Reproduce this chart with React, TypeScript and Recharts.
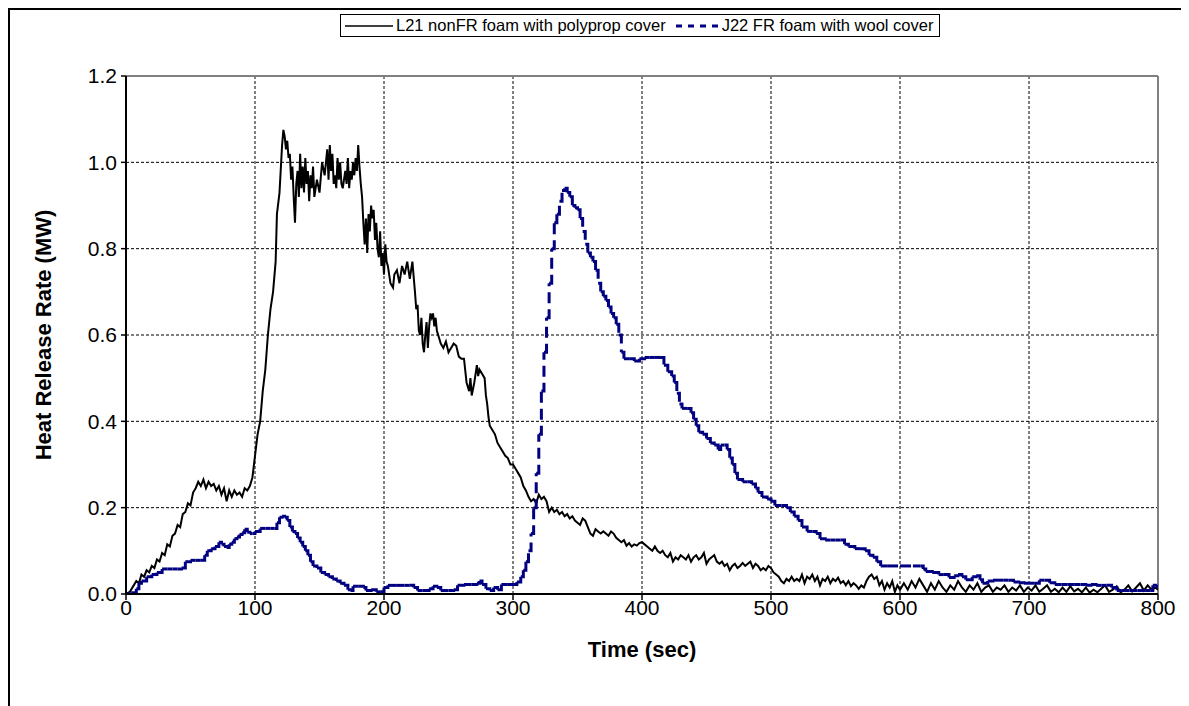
import React from 'react';
import {
  LineChart,
  Line,
  XAxis,
  YAxis,
  CartesianGrid,
  ReferenceLine,
} from 'recharts';

// time (sec), heat release rate (MW)
const l21Points: [number, number][] = [
  [0, 0], [3, 0.005], [6, 0.02], [8, 0.03], [10, 0.025], [12, 0.045], [14, 0.04], [16, 0.055],
  [18, 0.05], [20, 0.065], [22, 0.06], [24, 0.08], [26, 0.075], [28, 0.095], [30, 0.09], [32, 0.115],
  [34, 0.11], [36, 0.135], [38, 0.14], [40, 0.16], [42, 0.155], [44, 0.185], [46, 0.19], [48, 0.21],
  [50, 0.205], [52, 0.235], [54, 0.245], [56, 0.26], [58, 0.25], [60, 0.265], [62, 0.245], [64, 0.26],
  [66, 0.25], [68, 0.255], [70, 0.24], [72, 0.25], [74, 0.23], [76, 0.245], [78, 0.215], [80, 0.24],
  [82, 0.225], [84, 0.24], [86, 0.23], [88, 0.235], [90, 0.225], [92, 0.245], [94, 0.24], [96, 0.25],
  [98, 0.27], [100, 0.32], [102, 0.37], [104, 0.4], [106, 0.47], [108, 0.52], [110, 0.6], [112, 0.66],
  [114, 0.7], [116, 0.77], [117, 0.88], [119, 0.93], [121, 1.04], [122, 1.075], [123, 1.06], [124, 1.03],
  [125, 1.05], [126, 1.01], [127, 1.02], [128, 0.96], [129, 0.99], [130, 0.92], [131, 0.86], [132, 0.95],
  [133, 0.98], [134, 0.92], [135, 1.02], [136, 0.94], [137, 0.99], [138, 0.93], [139, 1.01], [140, 0.95],
  [141, 0.98], [142, 0.91], [143, 0.97], [144, 0.94], [145, 0.99], [146, 0.92], [148, 0.96], [150, 0.93],
  [152, 1.0], [154, 0.97], [156, 1.03], [157, 0.96], [158, 1.04], [159, 0.98], [160, 1.02], [161, 0.95],
  [162, 0.97], [163, 0.94], [164, 1.01], [165, 0.96], [166, 1.0], [167, 0.95], [168, 0.94], [170, 0.98],
  [171, 0.95], [172, 1.01], [173, 0.94], [174, 0.98], [175, 0.96], [176, 1.0], [177, 0.97], [178, 1.01],
  [179, 0.98], [180, 1.04], [181, 0.99], [182, 0.95], [183, 0.92], [184, 0.86], [185, 0.81], [186, 0.87],
  [187, 0.79], [188, 0.88], [189, 0.84], [190, 0.9], [191, 0.87], [192, 0.89], [193, 0.82], [194, 0.86],
  [195, 0.8], [196, 0.78], [197, 0.84], [198, 0.76], [199, 0.79], [200, 0.74], [201, 0.81], [202, 0.77],
  [203, 0.76], [205, 0.72], [207, 0.71], [208, 0.74], [210, 0.75], [212, 0.72], [214, 0.76], [216, 0.74],
  [218, 0.77], [220, 0.73], [222, 0.77], [224, 0.7], [225, 0.66], [226, 0.67], [227, 0.61], [228, 0.6],
  [229, 0.64], [230, 0.58], [231, 0.56], [232, 0.6], [233, 0.63], [234, 0.57], [235, 0.62], [236, 0.65],
  [237, 0.64], [238, 0.65], [239, 0.62], [240, 0.64], [241, 0.61], [242, 0.6], [243, 0.59], [244, 0.58],
  [246, 0.57], [248, 0.585], [250, 0.56], [252, 0.57], [254, 0.58], [256, 0.575], [258, 0.55], [260, 0.545],
  [262, 0.545], [264, 0.49], [266, 0.47], [267, 0.5], [268, 0.46], [270, 0.49], [271, 0.51], [272, 0.53],
  [273, 0.505], [274, 0.52], [276, 0.51], [278, 0.5], [279, 0.46], [280, 0.44], [281, 0.41], [282, 0.39],
  [284, 0.38], [286, 0.37], [288, 0.35], [290, 0.34], [292, 0.33], [294, 0.32], [296, 0.315], [298, 0.3],
  [300, 0.3], [302, 0.29], [304, 0.28], [306, 0.27], [308, 0.25], [310, 0.24], [312, 0.225], [314, 0.215],
  [316, 0.22], [318, 0.21], [320, 0.23], [322, 0.22], [324, 0.225], [326, 0.215], [328, 0.19], [330, 0.2],
  [332, 0.19], [334, 0.195], [336, 0.185], [338, 0.19], [340, 0.18], [342, 0.185], [344, 0.175], [346, 0.18],
  [348, 0.17], [350, 0.165], [352, 0.16], [354, 0.175], [356, 0.17], [358, 0.155], [360, 0.14], [362, 0.135],
  [364, 0.15], [366, 0.145], [368, 0.14], [370, 0.145], [372, 0.14], [374, 0.135], [376, 0.145], [378, 0.14],
  [380, 0.13], [382, 0.125], [384, 0.12], [386, 0.125], [388, 0.112], [390, 0.118], [392, 0.11], [394, 0.115],
  [396, 0.112], [398, 0.118], [400, 0.12], [402, 0.115], [404, 0.11], [406, 0.105], [408, 0.1], [410, 0.11],
  [412, 0.1], [414, 0.095], [416, 0.1], [418, 0.09], [420, 0.085], [422, 0.095], [424, 0.075], [426, 0.085],
  [428, 0.08], [430, 0.09], [432, 0.085], [434, 0.08], [436, 0.09], [438, 0.075], [440, 0.085], [442, 0.09],
  [444, 0.08], [446, 0.085], [448, 0.095], [450, 0.07], [452, 0.08], [454, 0.085], [456, 0.09], [458, 0.075],
  [460, 0.07], [462, 0.075], [464, 0.065], [466, 0.07], [468, 0.055], [470, 0.065], [472, 0.07], [474, 0.06],
  [476, 0.065], [478, 0.072], [480, 0.065], [482, 0.07], [484, 0.075], [486, 0.06], [488, 0.07], [490, 0.065],
  [492, 0.055], [494, 0.06], [496, 0.055], [498, 0.065], [500, 0.06], [502, 0.05], [504, 0.045], [506, 0.04],
  [508, 0.03], [510, 0.025], [512, 0.035], [514, 0.03], [516, 0.04], [518, 0.03], [520, 0.035], [522, 0.03],
  [524, 0.045], [526, 0.025], [528, 0.04], [530, 0.035], [532, 0.045], [534, 0.03], [536, 0.04], [538, 0.02],
  [540, 0.035], [542, 0.03], [544, 0.04], [546, 0.025], [548, 0.035], [550, 0.03], [552, 0.038], [554, 0.025],
  [556, 0.03], [558, 0.02], [560, 0.03], [562, 0.018], [564, 0.025], [566, 0.02], [568, 0.012], [570, 0.02],
  [572, 0.015], [574, 0.03], [576, 0.04], [578, 0.045], [580, 0.035], [582, 0.04], [584, 0.02], [586, 0.03],
  [588, 0.01], [590, 0.025], [592, 0.015], [594, 0.03], [596, 0.005], [598, 0.02], [600, 0.01], [603, 0.025],
  [606, 0.01], [609, 0.03], [612, 0.015], [615, 0.035], [618, 0.02], [621, 0.005], [624, 0.025], [627, 0.01],
  [630, 0.03], [633, 0.015], [636, 0.005], [639, 0.02], [642, 0.01], [645, 0.03], [648, 0.015], [651, 0.005],
  [654, 0.02], [657, 0.01], [660, 0.025], [663, 0.005], [666, 0.015], [669, 0.02], [672, 0.005], [675, 0.015],
  [678, 0.01], [681, 0.02], [684, 0.005], [687, 0.015], [690, 0.008], [693, 0.02], [696, 0.005], [699, 0.015],
  [702, 0.008], [705, 0.02], [708, 0.005], [711, 0.012], [714, 0.02], [717, 0.005], [720, 0.012], [723, 0.004],
  [726, 0.015], [729, 0.005], [732, 0.018], [735, 0.006], [738, 0.012], [741, 0.004], [744, 0.015], [747, 0.003],
  [750, 0.01], [753, 0.004], [756, 0.012], [759, 0.02], [762, 0.005], [765, 0.01], [768, 0.018], [771, 0.004],
  [774, 0.01], [777, 0.02], [780, 0.006], [783, 0.015], [786, 0.025], [789, 0.008], [792, 0.02], [795, 0.01],
  [798, 0.015], [800, 0.01],
];

const j22Points: [number, number][] = [
  [0, 0], [4, 0.003], [8, 0.012], [10, 0.025], [12, 0.03], [16, 0.04], [20, 0.045], [24, 0.05],
  [28, 0.058], [32, 0.058], [36, 0.058], [40, 0.058], [43, 0.06], [46, 0.075], [50, 0.078], [54, 0.078],
  [58, 0.078], [61, 0.09], [63, 0.1], [66, 0.105], [69, 0.11], [72, 0.12], [74, 0.115], [76, 0.11],
  [78, 0.108], [80, 0.115], [82, 0.12], [84, 0.128], [86, 0.132], [88, 0.138], [90, 0.142], [92, 0.15],
  [94, 0.143], [96, 0.14], [98, 0.14], [100, 0.145], [104, 0.152], [108, 0.152], [112, 0.152], [115, 0.152],
  [117, 0.165], [119, 0.178], [121, 0.18], [123, 0.178], [125, 0.17], [127, 0.155], [129, 0.145], [131, 0.14],
  [133, 0.13], [135, 0.12], [137, 0.11], [139, 0.1], [141, 0.09], [143, 0.075], [145, 0.065], [148, 0.06],
  [151, 0.05], [154, 0.045], [157, 0.04], [160, 0.035], [163, 0.03], [166, 0.025], [169, 0.02], [172, 0.01],
  [174, 0.008], [176, 0.018], [180, 0.018], [184, 0.015], [186, 0.008], [190, 0.01], [194, 0.005], [197, 0.005],
  [200, 0.015], [203, 0.02], [210, 0.02], [216, 0.02], [220, 0.02], [223, 0.015], [226, 0.008], [230, 0.008],
  [235, 0.012], [238, 0.018], [241, 0.015], [244, 0.008], [250, 0.008], [254, 0.01], [257, 0.02], [262, 0.022],
  [268, 0.022], [272, 0.025], [274, 0.03], [276, 0.022], [279, 0.012], [282, 0.008], [285, 0.015], [288, 0.01],
  [291, 0.022], [296, 0.022], [300, 0.022], [303, 0.028], [306, 0.04], [308, 0.055], [310, 0.075], [312, 0.1],
  [314, 0.14], [316, 0.2], [318, 0.28], [320, 0.37], [322, 0.47], [324, 0.56], [326, 0.64], [328, 0.72],
  [330, 0.8], [332, 0.86], [334, 0.88], [336, 0.91], [338, 0.935], [340, 0.94], [342, 0.93], [344, 0.92],
  [346, 0.9], [348, 0.895], [350, 0.89], [352, 0.87], [354, 0.84], [356, 0.81], [358, 0.79], [360, 0.78],
  [362, 0.77], [364, 0.75], [366, 0.72], [368, 0.7], [370, 0.69], [372, 0.68], [374, 0.665], [376, 0.65],
  [378, 0.64], [380, 0.625], [382, 0.6], [384, 0.56], [386, 0.545], [390, 0.545], [394, 0.54], [398, 0.545],
  [402, 0.548], [406, 0.548], [410, 0.548], [414, 0.548], [417, 0.53], [420, 0.515], [423, 0.505], [425, 0.49],
  [427, 0.465], [429, 0.44], [431, 0.43], [435, 0.43], [438, 0.42], [440, 0.405], [442, 0.39], [444, 0.375],
  [447, 0.37], [450, 0.36], [453, 0.35], [456, 0.345], [459, 0.335], [461, 0.345], [464, 0.345], [466, 0.335],
  [468, 0.315], [470, 0.3], [472, 0.28], [474, 0.265], [478, 0.26], [482, 0.26], [485, 0.255], [488, 0.245],
  [490, 0.235], [493, 0.225], [497, 0.22], [500, 0.215], [503, 0.205], [508, 0.205], [512, 0.2], [515, 0.19],
  [518, 0.18], [521, 0.17], [524, 0.155], [528, 0.145], [532, 0.145], [535, 0.14], [538, 0.128], [542, 0.125],
  [546, 0.125], [550, 0.125], [554, 0.125], [557, 0.115], [560, 0.11], [565, 0.105], [569, 0.105], [573, 0.1],
  [576, 0.09], [579, 0.085], [582, 0.075], [585, 0.065], [590, 0.065], [600, 0.065], [610, 0.065], [616, 0.065],
  [618, 0.058], [620, 0.052], [625, 0.05], [630, 0.045], [634, 0.045], [638, 0.038], [642, 0.042], [645, 0.045],
  [648, 0.04], [651, 0.033], [656, 0.04], [659, 0.042], [662, 0.033], [664, 0.025], [668, 0.03], [672, 0.032],
  [676, 0.032], [680, 0.032], [684, 0.032], [688, 0.028], [692, 0.026], [696, 0.025], [700, 0.025], [704, 0.025],
  [708, 0.032], [712, 0.032], [716, 0.026], [720, 0.022], [725, 0.022], [730, 0.022], [735, 0.022], [740, 0.022],
  [744, 0.02], [748, 0.022], [752, 0.02], [756, 0.02], [760, 0.02], [764, 0.015], [768, 0.008], [772, 0.008],
  [778, 0.008], [784, 0.008], [790, 0.008], [794, 0.008], [796, 0.02], [798, 0.018], [800, 0.015],
];

const xTicks = [0, 100, 200, 300, 400, 500, 600, 700, 800];
const yTicks = [0, 0.2, 0.4, 0.6, 0.8, 1.0, 1.2];

const l21Name = 'L21 nonFR foam with polyprop cover';
const j22Name = 'J22 FR foam with wool cover';

const l21Data = l21Points.map(([t, hrr]) => ({ t, hrr }));
const j22Data = j22Points.map(([t, hrr]) => ({ t, hrr }));
// excel restarts the dash pattern on every segment, so the dashed
// series is drawn one segment at a time
const j22Segments = j22Data.slice(1).map((p, i) => [j22Data[i], p]);

const FONT = 'Arial, "Liberation Sans", sans-serif';
const NAVY = '#000080';

const LegendBox = () => (
  <div
    style={{
      position: 'absolute',
      left: 330,
      top: 4,
      display: 'flex',
      alignItems: 'center',
      border: '1px solid #000',
      background: '#fff',
      padding: '1px 6px 1px 4px',
      fontFamily: FONT,
      fontSize: 16.5,
      lineHeight: '19px',
      whiteSpace: 'nowrap',
      color: '#000',
    }}
  >
    <svg width={48} height={10}>
      <line x1={0} y1={5} x2={48} y2={5} stroke="#000" strokeWidth={1.5} />
    </svg>
    <span style={{ marginLeft: 3, marginRight: 10 }}>{l21Name}</span>
    <svg width={44} height={10}>
      <line x1={0} y1={5} x2={44} y2={5} stroke={NAVY} strokeWidth={3} strokeDasharray="6 6" />
    </svg>
    <span style={{ marginLeft: 2 }}>{j22Name}</span>
  </div>
);

const YTitle = (props: any) => {
  const { viewBox } = props;
  const x = viewBox.x - 13;
  const y = viewBox.y + viewBox.height / 2;
  return (
    <text
      x={x}
      y={y}
      transform={`rotate(-90 ${x} ${y})`}
      textAnchor="middle"
      dominantBaseline="central"
      fontFamily={FONT}
      fontSize={22}
      fontWeight="bold"
      fill="#000"
    >
      Heat Release Rate (MW)
    </text>
  );
};

const XTitle = (props: any) => {
  const { viewBox } = props;
  const x = viewBox.x + viewBox.width / 2;
  const y = viewBox.y + 55;
  return (
    <text
      x={x}
      y={y}
      textAnchor="middle"
      dominantBaseline="central"
      fontFamily={FONT}
      fontSize={22}
      fontWeight="bold"
      fill="#000"
    >
      Time (sec)
    </text>
  );
};

export default function App() {
  return (
    <div
      style={{
        width: 1181,
        height: 698,
        borderLeft: '2px solid #000',
        borderTop: '2px solid #000',
        background: '#fff',
        boxSizing: 'border-box',
        position: 'relative',
      }}
    >
      <LineChart
        width={1179}
        height={696}
        margin={{ top: 66, right: 31, bottom: 52, left: 46 }}
      >
        <CartesianGrid stroke="#000" strokeWidth={1} strokeDasharray="3 2" />
        <XAxis
          dataKey="t"
          type="number"
          domain={[0, 800]}
          ticks={xTicks}
          allowDataOverflow
          height={60}
          tickSize={6}
          tickMargin={0}
          axisLine={{ stroke: '#000', strokeWidth: 2 }}
          tickLine={{ stroke: '#000', strokeWidth: 1.5 }}
          tick={{ fill: '#000', fontSize: 21, fontFamily: FONT }}
          label={{ content: XTitle }}
        />
        <YAxis
          type="number"
          domain={[0, 1.2]}
          ticks={yTicks}
          allowDataOverflow
          width={70}
          tickSize={5}
          tickMargin={4}
          tickFormatter={(v: number) => v.toFixed(1)}
          axisLine={{ stroke: '#000', strokeWidth: 2 }}
          tickLine={{ stroke: '#000', strokeWidth: 1.5 }}
          tick={{ fill: '#000', fontSize: 21, fontFamily: FONT }}
          label={{ content: YTitle }}
        />
        <ReferenceLine y={1.2} stroke="#808080" strokeWidth={2} />
        <ReferenceLine x={800} stroke="#808080" strokeWidth={2} />
        <Line
          data={l21Data}
          dataKey="hrr"
          name={l21Name}
          type="linear"
          stroke="#000"
          strokeWidth={2}
          dot={false}
          isAnimationActive={false}
        />
        {j22Segments.map((seg, i) => (
          <Line
            key={`j22-${i}`}
            data={seg}
            dataKey="hrr"
            name={j22Name}
            type="stepAfter"
            stroke={NAVY}
            strokeWidth={3}
            strokeDasharray="11 6"
            dot={false}
            isAnimationActive={false}
          />
        ))}
      </LineChart>
      <LegendBox />
    </div>
  );
}
